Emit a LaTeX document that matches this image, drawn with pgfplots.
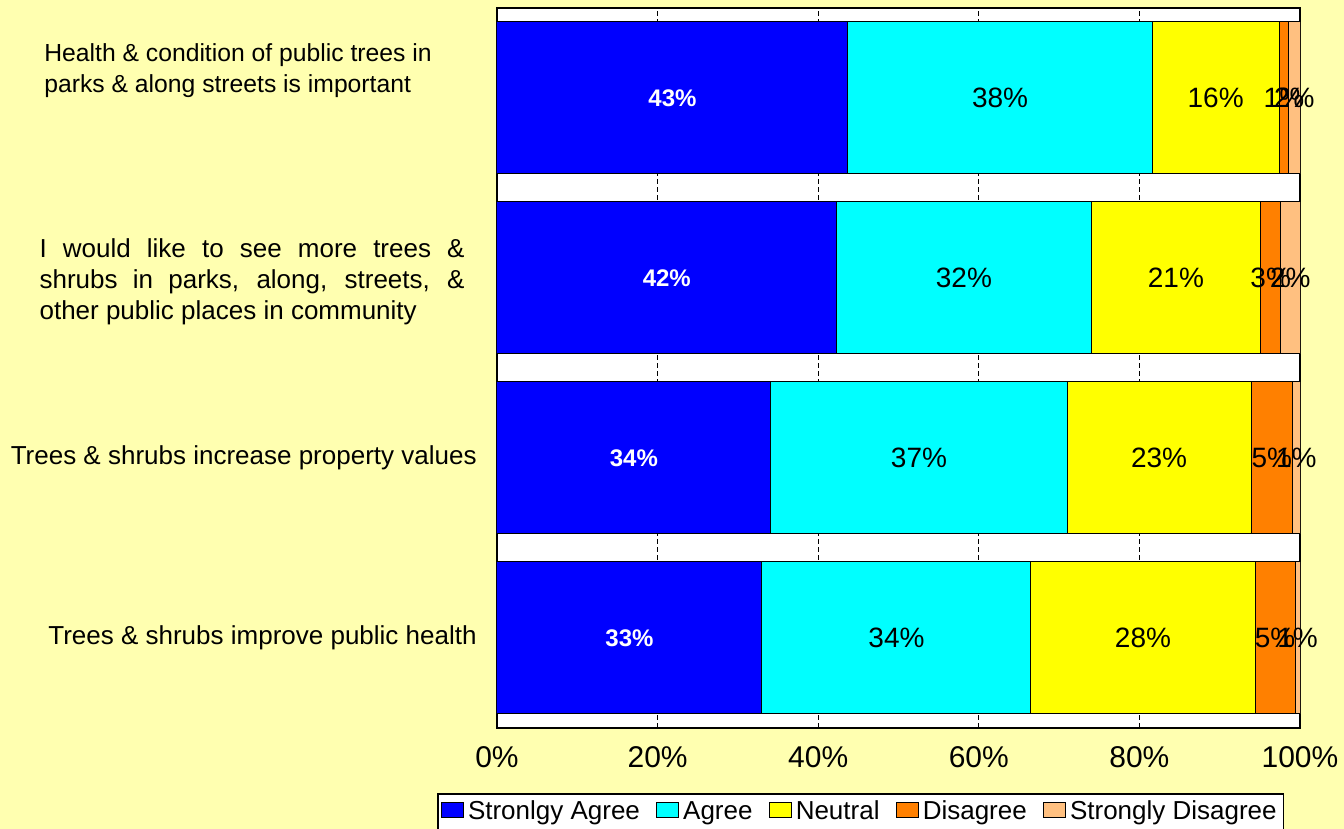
\documentclass[border=0pt]{standalone}
\usepackage{fontspec}
\setmainfont{Liberation Sans}
\usepackage{pgfplots}
\pgfplotsset{compat=1.18}
\usetikzlibrary{backgrounds,calc}

\definecolor{bg}{RGB}{255,255,176}
\definecolor{sa}{RGB}{0,0,255}
\definecolor{ag}{RGB}{0,255,255}
\definecolor{ne}{RGB}{255,255,0}
\definecolor{di}{RGB}{255,128,0}
\definecolor{sd}{RGB}{255,192,128}

\begin{document}
\begin{tikzpicture}
\begin{axis}[
    name=ax,
    xbar stacked,
    scale only axis,
    width=401.5pt, height=360pt,
    xmin=0, xmax=100,
    ymin=-0.5, ymax=3.5,
    bar width=76pt,
    axis background/.style={fill=white},
    axis line style={line width=0.9pt},
    xtick={0,20,40,60,80,100},
    xticklabel={\pgfmathprintnumber{\tick}\%},
    xticklabel style={font=\fontsize{15}{18}\selectfont, anchor=center, yshift=-14.5pt},
    ytick={0,1,2,3},
    yticklabels={
        Trees \& shrubs improve public health,
        Trees \& shrubs increase property values,
        {\raisebox{-5.25pt}[0pt][0pt]{\begin{tabular}{@{}l@{}}\makebox[212.5pt][s]{I would like to see more trees \&}\\\makebox[212.5pt][s]{shrubs in parks, along, streets, \&}\\other public places in community\end{tabular}}\kern6pt},
        {\raisebox{10.5pt}[0pt][0pt]{\fontsize{12.35}{15.5}\selectfont\begin{tabular}{@{}l@{}}Health \& condition of public trees in\\parks \& along streets is important\end{tabular}}\kern22.5pt}
    },
    yticklabel style={font=\fontsize{13}{15.5}\selectfont, anchor=east, inner sep=0pt, xshift=-10pt},
    major tick length=0pt,
    xmajorgrids,
    grid style={black, line width=0.6pt, dash pattern=on 2.5pt off 1.5pt},
    /pgf/number format/assume math mode=true,
    point meta=explicit symbolic,
    nodes near coords={\pgfplotspointmeta\%},
    every node near coord/.append style={anchor=center, text=black,
        font=\fontsize{14}{16}\selectfont},
    legend columns=5,
    legend style={at={(axis description cs:-0.0747,-0.0903)}, anchor=north west,
        draw=black, line width=0.8pt, fill=white,
        font=\fontsize{13}{15.5}\selectfont, inner sep=1.5pt,
        /tikz/every even column/.append style={column sep=6pt}},
    legend image code/.code={\draw[#1,draw=black,line width=0.6pt] (0pt,-3pt) rectangle (11pt,4.5pt);},
]
\addplot+[fill=sa, draw=black, line width=0.5pt,
    every node near coord/.append style={text=white, font=\bfseries\fontsize{12}{14}\selectfont}]
    coordinates {(33.0,0) [33] (34.1,1) [34] (42.3,2) [42] (43.7,3) [43]};
\addlegendentry{Stronlgy Agree}
\addplot+[fill=ag, draw=black, line width=0.5pt]
    coordinates {(33.5,0) [34] (36.9,1) [37] (31.7,2) [32] (37.9,3) [38]};
\addlegendentry{Agree}
\addplot+[fill=ne, draw=black, line width=0.5pt]
    coordinates {(27.9,0) [28] (22.9,1) [23] (21.1,2) [21] (15.8,3) [16]};
\addlegendentry{Neutral}
\addplot+[fill=di, draw=black, line width=0.5pt]
    coordinates {(5.0,0) [5] (5.2,1) [5] (2.5,2) [3] (1.2,3) [1]};
\addlegendentry{Disagree}
\addplot+[fill=sd, draw=black, line width=0.5pt]
    coordinates {(0.6,0) [1] (0.9,1) [1] (2.4,2) [2] (1.4,3) [2]};
\addlegendentry{Strongly Disagree}
\end{axis}
\begin{scope}[on background layer]
\fill[bg] ($(ax.south west)+(-248.5pt,-50.5pt)$) rectangle ($(ax.north east)+(22pt,4pt)$);
\end{scope}
\pgfresetboundingbox
\path[use as bounding box] ($(ax.south west)+(-248.5pt,-50.5pt)$) rectangle ($(ax.north east)+(22pt,4pt)$);
\end{tikzpicture}
\end{document}
